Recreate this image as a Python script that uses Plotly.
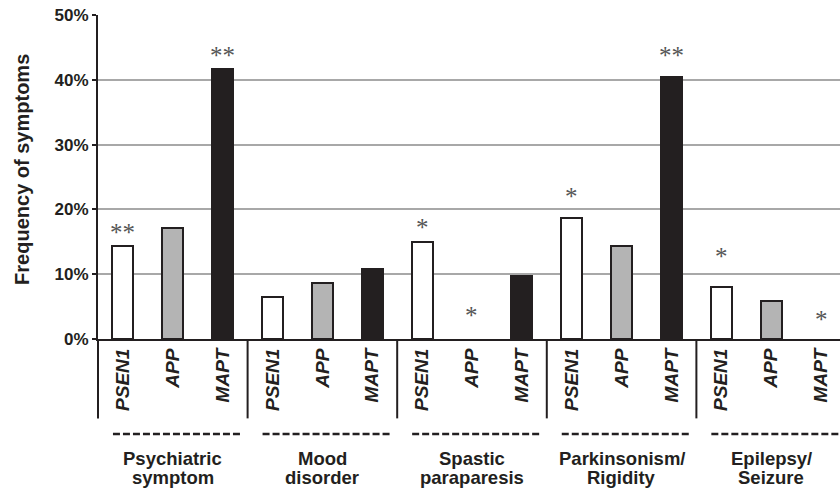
import plotly.graph_objects as go

group_line1 = ["Psychiatric", "Mood", "Spastic", "Parkinsonism/", "Epilepsy/"]
group_line2 = ["symptom", "disorder", "paraparesis", "Rigidity", "Seizure"]
genes = ["PSEN1", "APP", "MAPT"]
gene_colors = ["#ffffff", "#b4b4b4", "#231f20"]

psen1 = [14.4, 6.5, 15.0, 18.6, 8.1]
app = [17.2, 8.6, 0.0, 14.4, 5.9]
mapt = [41.7, 10.8, 9.7, 40.5, 0.0]

# significance marks: (group index, gene index, mark, level in %)
sig_group = [0, 0, 2, 2, 3, 3, 4, 4]
sig_gene = [0, 2, 0, 1, 0, 2, 0, 2]
sig_mark = ["**", "**", "*", "*", "*", "**", "*", "*"]
sig_level = [17.0, 44.4, 17.8, 4.3, 22.6, 44.4, 13.3, 3.7]

y_ticks = [0, 10, 20, 30, 40, 50]

series = [psen1, app, mapt]
ng = len(group_line1)
ink = "#231f20"
fig = go.Figure()
for gi, (name, vals, col) in enumerate(zip(genes, series, gene_colors)):
    xs = [g * 3 + gi for g in range(ng)]
    fig.add_trace(go.Bar(
        x=xs, y=[v / 100 for v in vals], name=name, width=0.42,
        marker=dict(color=col,
                    line=dict(color=ink, width=[2 if v > 0 else 0 for v in vals])),
        showlegend=False, hoverinfo="skip"))

for g, gi, m, lv in zip(sig_group, sig_gene, sig_mark, sig_level):
    fig.add_annotation(x=g * 3 + gi, y=lv / 100, xref="x", yref="y", text=m,
                       showarrow=False, yanchor="middle", yshift=-4,
                       font=dict(family="Liberation Serif", size=25, color="#555555"))

# y-axis extension and group separators below the axis
fig.add_shape(type="line", xref="paper", yref="paper", x0=0, x1=0, y0=0, y1=-0.245,
              line=dict(color=ink, width=2))
for g in range(1, ng):
    fig.add_shape(type="line", xref="x", yref="paper", x0=g * 3 - 0.5, x1=g * 3 - 0.5,
                  y0=0, y1=-0.245, line=dict(color=ink, width=2))
# dashed underline and two-line label per group
gfont = dict(family="Liberation Sans", size=18.5, color=ink, weight="bold")
for g in range(ng):
    fig.add_shape(type="line", xref="x", yref="paper", x0=g * 3 - 0.2, x1=g * 3 + 2.4,
                  y0=-0.293, y1=-0.293, line=dict(color=ink, width=2.5, dash="7px,3px"))
    fig.add_annotation(x=g * 3 + 1, y=-0.368, xref="x", yref="paper", text=group_line1[g],
                       showarrow=False, yanchor="middle", font=gfont)
    fig.add_annotation(x=g * 3 + 1, y=-0.427, xref="x", yref="paper", text=group_line2[g],
                       showarrow=False, yanchor="middle", font=gfont)

# y-axis title
fig.add_annotation(x=-0.1024, y=0.522, xref="paper", yref="paper",
                   text="Frequency of symptoms", textangle=-90, showarrow=False,
                   xanchor="center", yanchor="middle",
                   font=dict(family="Liberation Sans", size=20, color=ink, weight="bold"))

fig.update_layout(
    width=840, height=488,
    margin=dict(l=98, r=0, t=15, b=149),
    plot_bgcolor="white", paper_bgcolor="white",
    bargap=0,
    xaxis=dict(
        range=[-0.5, 14.38],
        automargin=False,
        tickmode="array",
        tickvals=list(range(ng * 3)),
        ticktext=genes * ng,
        tickangle=-90,
        tickfont=dict(family="Liberation Sans", size=19, color=ink, weight="bold", style="italic"),
        showline=True, linecolor=ink, linewidth=2,
        showgrid=False, zeroline=False, ticks="",
    ),
    yaxis=dict(
        range=[0, 0.5],
        automargin=False,
        tickvals=[t / 100 for t in y_ticks],
        ticktext=[f"{t}%" for t in y_ticks],
        tickfont=dict(family="Liberation Sans", size=17, color=ink, weight="bold"),
        showline=True, linecolor=ink, linewidth=2,
        ticks="outside", ticklen=4, tickwidth=2, tickcolor=ink,
        showgrid=True, gridcolor="#a8a8a8", gridwidth=2,
        zeroline=False,
    ),
)

fig.write_html("out.html", config={"displayModeBar": False},
               post_script="document.body.style.margin='0';document.body.style.overflow='hidden';")
